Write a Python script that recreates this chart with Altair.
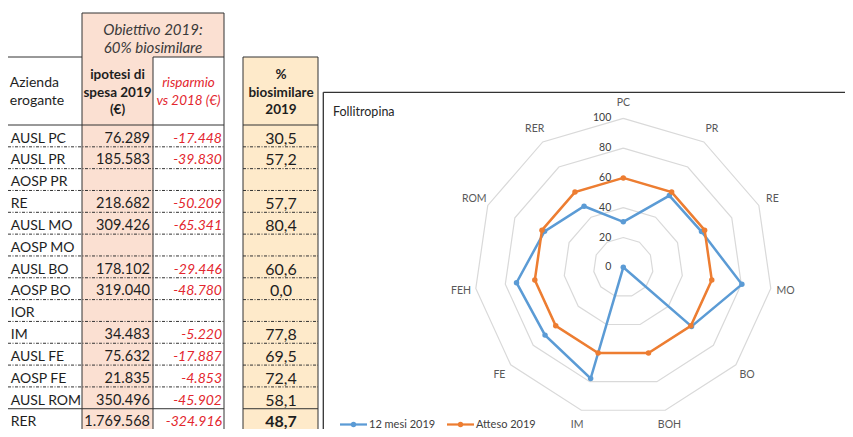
import altair as alt
import pandas as pd

# ---------------- data ----------------
aziende = ["AUSL PC", "AUSL PR", "AOSP PR", "RE", "AUSL MO", "AOSP MO", "AUSL BO",
           "AOSP BO", "IOR", "IM", "AUSL FE", "AOSP FE", "AUSL ROM", "RER"]
spesa_2019 = [76289, 185583, None, 218682, 309426, None, 178102,
              319040, None, 34483, 75632, 21835, 350496, 1769568]
risparmio_vs_2018 = [-17448, -39830, None, -50209, -65341, None, -29446,
                     -48780, None, -5220, -17887, -4853, -45902, -324916]
perc_biosimilare = [30.5, 57.2, None, 57.7, 80.4, None, 60.6,
                    0.0, None, 77.8, 69.5, 72.4, 58.1, 48.7]

assi_radar = ["PC", "PR", "RE", "MO", "BO", "BOH", "IM", "FE", "FEH", "ROM", "RER"]
mesi12_2019 = [30.5, 57.2, 57.7, 80.4, 60.6, 0.0, 77.8, 69.5, 72.4, 58.1, 48.7]
atteso_2019 = [60, 60, 60, 60, 60, 60, 60, 60, 60, 60, 60]
serie_nomi = ["12 mesi 2019", "Atteso 2019"]
griglia = [0, 20, 40, 60, 80, 100]
titolo_grafico = "Follitropina"

# ---------------- style / layout ----------------
FONT = "Lato"
PINK = "#FBE0D2"
CREAM = "#FEEACA"
RED = "#E3262E"
INK = "#1E1E1E"
HEAD_GRAY = "#3A3A3A"
BLUE = "#5B9BD5"
ORANGE = "#ED7D31"
GRID = "#D9D9D9"
LABEL = "#595959"

XB, XC, XE = 82, 153, 224
XD0, XD1 = 243, 318
Y_TOP, Y_H1, Y_H2, Y_BOT = 13, 57, 125, 437
ROW_H = 22.4

W, H = 837, 421

# table / frame coordinate system (reference pixels -> chart pixels)
TX = alt.Scale(domain=[0, 82, 845], range=[0, 74, 837], zero=False, nice=False)
TY = alt.Scale(domain=[0, 125, 437], range=[-8, 117, 421], zero=False, nice=False)
LY = alt.Scale(domain=[0, 437], range=[-8, 429], zero=False, nice=False)

# radar coordinate system (value units)
CX, CY, R100 = 623.3 - 8, 267.3 - 8, 149
RX = alt.Scale(domain=[-100, 100], range=[CX - R100, CX + R100], zero=False, nice=False)
RY = alt.Scale(domain=[-100, 100], range=[CY + R100, CY - R100], zero=False, nice=False)


def tx(f):
    return alt.X(f, type="quantitative", scale=TX, axis=None)


def ty(f):
    return alt.Y(f, type="quantitative", scale=TY, axis=None)


def ly(f):
    return alt.Y(f, type="quantitative", scale=LY, axis=None)


def rx(f):
    return alt.X(f, type="quantitative", scale=RX, axis=None)


def ry(f):
    return alt.Y(f, type="quantitative", scale=RY, axis=None)


def fmt_int(v):
    return "" if v is None else f"{v:,}".replace(",", ".")


def fmt_dec(v):
    return "" if v is None else f"{v:.1f}".replace(".", ",")


# ---------------- table ----------------
fills = pd.DataFrame([
    dict(x=XB, x2=XC, y=Y_TOP, y2=Y_BOT, c=PINK),
    dict(x=XC, x2=XE, y=Y_TOP, y2=Y_H1, c=PINK),
    dict(x=XD0, x2=XD1, y=Y_H1, y2=Y_BOT, c=CREAM),
])
fill_layer = alt.Chart(fills).mark_rect().encode(
    x=tx("x"), x2="x2", y=ty("y"), y2="y2", color=alt.Color("c:N", scale=None))

n_rows = len(aziende)
solid = [
    (XB, XE, Y_TOP, Y_TOP), (0, XB, Y_H1, Y_H1), (XC, XE, Y_H1, Y_H1), (XD0, XD1, Y_H1, Y_H1),
    (0, XE, Y_H2, Y_H2), (XD0, XD1, Y_H2, Y_H2),
    (XB, XB, Y_TOP, Y_BOT), (XC, XC, Y_H1, Y_BOT), (XE, XE, Y_TOP, Y_BOT),
    (XD0, XD0, Y_H1, Y_BOT), (XD1, XD1, Y_H1, Y_BOT),
]
y_last = Y_H2 + ROW_H * (n_rows - 1)
solid += [(0, XE, y_last, y_last), (XD0, XD1, y_last, y_last)]
solid_df = pd.DataFrame(solid, columns=["x", "x2", "y", "y2"])
solid_layer = alt.Chart(solid_df).mark_rule(color="#333333", strokeWidth=1).encode(
    x=tx("x"), x2="x2", y=ty("y"), y2="y2")

dots = []
for k in range(1, n_rows - 1):
    yy = Y_H2 + ROW_H * k
    dots += [(0, XE, yy, yy), (XD0, XD1, yy, yy)]
dots_df = pd.DataFrame(dots, columns=["x", "x2", "y", "y2"])
dots_layer = alt.Chart(dots_df).mark_rule(color="#333333", strokeWidth=1,
                                          strokeDash=[3, 1.5, 1, 1.5]).encode(
    x=tx("x"), x2="x2", y=ty("y"), y2="y2")

rows = pd.DataFrame({
    "azienda": aziende,
    "spesa": [fmt_int(v) for v in spesa_2019],
    "risp": [fmt_int(v) for v in risparmio_vs_2018],
    "bio": [fmt_dec(v) for v in perc_biosimilare],
})
rows["y"] = [Y_H2 + ROW_H * i + 14 for i in range(n_rows)]
rows["xa"], rows["xb"], rows["xc"], rows["xd"] = 3, 150, 222, 281
rows["tot"] = rows["azienda"] == "RER"
rbase = alt.Chart(rows)
t_a = rbase.mark_text(align="left", baseline="middle", font=FONT, fontSize=14, color=INK).encode(
    x=tx("xa"), y=ty("y"), text="azienda:N")
t_b = rbase.mark_text(align="right", baseline="middle", font=FONT, fontSize=14.5, color=INK).encode(
    x=tx("xb"), y=ty("y"), text="spesa:N")
t_c = rbase.mark_text(align="right", baseline="middle", font=FONT, fontSize=14, color=RED,
                      fontStyle="italic").encode(
    x=tx("xc"), y=ty("y"), text="risp:N")
t_d = rbase.transform_filter("!datum.tot").mark_text(
    align="center", baseline="middle", font=FONT, fontSize=16, color=INK).encode(
    x=tx("xd"), y=ty("y"), text="bio:N")
t_d_tot = rbase.transform_filter("datum.tot").mark_text(
    align="center", baseline="middle", font=FONT, fontSize=16, color=INK,
    fontWeight="bold").encode(
    x=tx("xd"), y=ty("y"), text="bio:N")

heads = pd.DataFrame([
    dict(t="Obiettivo 2019:", x=153, y=29.5, s="obj"),
    dict(t="60% biosimilare", x=153, y=47.5, s="obj"),
    dict(t="Azienda", x=2, y=83, s="a"),
    dict(t="erogante", x=2, y=101, s="a"),
    dict(t="ipotesi di", x=117.5, y=75, s="b"),
    dict(t="spesa 2019", x=117.5, y=92.5, s="b"),
    dict(t="(€)", x=117.5, y=110, s="b"),
    dict(t="risparmio", x=188.5, y=83, s="c"),
    dict(t="vs 2018 (€)", x=188.5, y=100.5, s="c"),
    dict(t="%", x=281, y=75, s="b"),
    dict(t="biosimilare", x=281, y=92.5, s="b"),
    dict(t="2019", x=281, y=110, s="b"),
])
hbase = alt.Chart(heads)
h_obj = hbase.transform_filter("datum.s == 'obj'").mark_text(
    align="center", baseline="middle", font=FONT, fontSize=15, fontStyle="italic",
    color=HEAD_GRAY).encode(x=tx("x"), y=ty("y"), text="t:N")
h_a = hbase.transform_filter("datum.s == 'a'").mark_text(
    align="left", baseline="middle", font=FONT, fontSize=14, color=INK).encode(
    x=tx("x"), y=ty("y"), text="t:N")
h_b = hbase.transform_filter("datum.s == 'b'").mark_text(
    align="center", baseline="middle", font=FONT, fontSize=13.5, fontWeight="bold",
    color=INK).encode(x=tx("x"), y=ty("y"), text="t:N")
h_c = hbase.transform_filter("datum.s == 'c'").mark_text(
    align="center", baseline="middle", font=FONT, fontSize=13.5, fontStyle="italic",
    color=RED).encode(x=tx("x"), y=ty("y"), text="t:N")

# ---------------- chart frame, title, legend ----------------
frame_df = pd.DataFrame([(323.3, 845, 92.3, 92.3), (323.3, 323.3, 92.3, 437)],
                        columns=["x", "x2", "y", "y2"])
frame_layer = alt.Chart(frame_df).mark_rule(color="#333333", strokeWidth=1.3).encode(
    x=tx("x"), x2="x2", y=ty("y"), y2="y2")

title_layer = alt.Chart(pd.DataFrame({"t": [titolo_grafico], "x": [333], "y": [112]})).mark_text(
    align="left", baseline="middle", font=FONT, fontSize=12.5, color="#262626").encode(
    x=tx("x"), y=ty("y"), text="t:N")

leg = pd.DataFrame({"serie": serie_nomi, "c": [BLUE, ORANGE]})
leg["x0"] = [340 + 107 * j for j in range(len(serie_nomi))]
leg["x1"] = leg["x0"] + 27
leg["xm"] = leg["x0"] + 13.5
leg["xt"] = leg["x0"] + 29
leg["y"] = 424.5
lbase = alt.Chart(leg)
leg_line = lbase.mark_rule(strokeWidth=2.25).encode(
    x=tx("x0"), x2="x1", y=ly("y"), color=alt.Color("c:N", scale=None))
leg_pt = lbase.mark_point(filled=True, size=28, opacity=1).encode(
    x=tx("xm"), y=ly("y"), color=alt.Color("c:N", scale=None))
leg_txt = lbase.mark_text(align="left", baseline="middle", font=FONT, fontSize=11,
                          color="#404040").encode(x=tx("xt"), y=ly("y"), text="serie:N")

# ---------------- radar ----------------
n = len(assi_radar)
ang = f"datum.i * 2 * PI / {n}"

ring_recs = []
for g in griglia:
    if g == 0:
        continue
    for k in range(n + 1):
        ring_recs.append(dict(g=g, k=k, i=k % n, v=g))
rings_layer = alt.Chart(pd.DataFrame(ring_recs)).transform_calculate(
    px=f"datum.v * sin({ang})", py=f"datum.v * cos({ang})"
).mark_line(color=GRID, strokeWidth=1.2).encode(
    x=rx("px"), y=ry("py"), detail="g:N", order="k:Q")

ser_recs = []
for nome, vals in zip(serie_nomi, [mesi12_2019, atteso_2019]):
    for k in range(n + 1):
        ser_recs.append(dict(serie=nome, k=k, i=k % n, v=vals[k % n]))
ser_df = pd.DataFrame(ser_recs)
col_scale = alt.Scale(domain=serie_nomi, range=[BLUE, ORANGE])
ser_layers = []
for nome in serie_nomi:
    sb = alt.Chart(ser_df).transform_filter(alt.datum.serie == nome).transform_calculate(
        px=f"datum.v * sin({ang})", py=f"datum.v * cos({ang})")
    ser_layers.append(sb.mark_line(strokeWidth=2.5).encode(
        x=rx("px"), y=ry("py"), order="k:Q",
        color=alt.Color("serie:N", scale=col_scale, legend=None)))
    ser_layers.append(sb.transform_filter(f"datum.k < {n}").mark_point(
        filled=True, size=30, opacity=1).encode(
        x=rx("px"), y=ry("py"),
        color=alt.Color("serie:N", scale=col_scale, legend=None)))

tick_df = pd.DataFrame({"g": griglia, "t": [str(g) for g in griglia], "px": [0] * len(griglia)})
tick_layer = alt.Chart(tick_df).mark_text(
    align="right", baseline="middle", dx=-12, font=FONT, fontSize=10.5, color="#404040").encode(
    x=rx("px"), y=ry("g"), text="t:N")

cat_df = pd.DataFrame({"lab": assi_radar, "i": list(range(n))})
cat_layer = alt.Chart(cat_df).transform_calculate(
    px=f"110 * sin({ang})", py=f"110 * cos({ang})"
).mark_text(align="center", baseline="middle", font=FONT, fontSize=10.5, color=LABEL).encode(
    x=rx("px"), y=ry("py"), text="lab:N")

chart = alt.layer(
    fill_layer, dots_layer, solid_layer,
    t_a, t_b, t_c, t_d, t_d_tot, h_obj, h_a, h_b, h_c,
    frame_layer, title_layer,
    rings_layer, *ser_layers, tick_layer, cat_layer,
    leg_line, leg_pt, leg_txt,
).resolve_scale(x="independent", y="independent").properties(
    width=W, height=H, autosize=alt.AutoSizeParams(type="none"), padding=0
).configure_view(stroke=None)

chart.save("out.html", embed_options={"renderer": "svg", "actions": False})
